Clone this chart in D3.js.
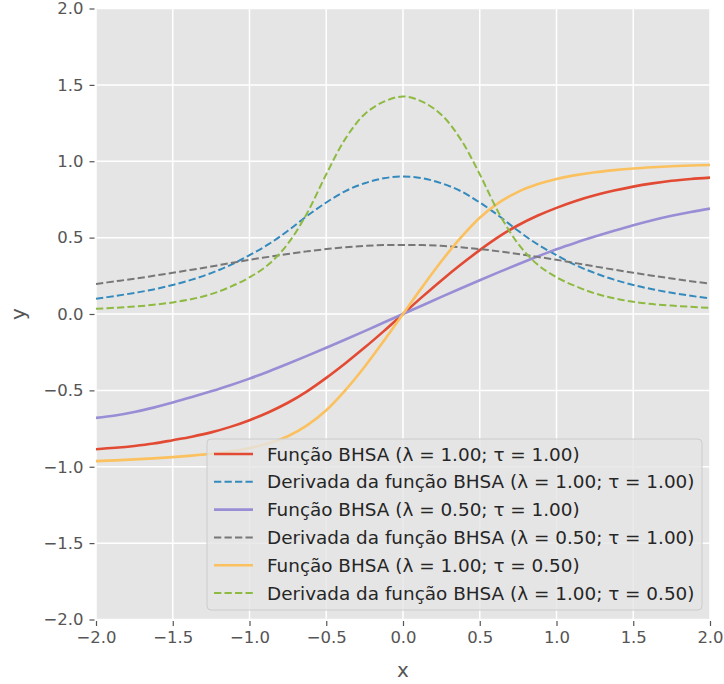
<!DOCTYPE html>
<html>
<head>
<meta charset="utf-8">
<script src="https://cdn.jsdelivr.net/npm/d3@7"></script>
<style>
  html, body { margin: 0; padding: 0; background: #ffffff; }
  svg { display: block; font-family: "DejaVu Sans", sans-serif; }
</style>
</head>
<body>
<svg id="chart" width="724" height="684"></svg>
<script>
// Sample abscissas shared by every curve
const xs = [-2, -1.875, -1.75, -1.625, -1.5, -1.375, -1.25, -1.125,
            -1, -0.875, -0.75, -0.625, -0.5, -0.375, -0.25, -0.125,
            0, 0.125, 0.25, 0.375, 0.5, 0.625, 0.75, 0.875,
            1, 1.125, 1.25, 1.375, 1.5, 1.625, 1.75, 1.875, 2];

// BHSA function and derivative values at each abscissa
const bhsa_l1_t1 = [-0.885, -0.876, -0.864, -0.848, -0.826, -0.803, -0.775, -0.739,
                    -0.695, -0.643, -0.581, -0.506, -0.418, -0.322, -0.22, -0.112,
                    0, 0.112, 0.22, 0.322, 0.418, 0.506, 0.581, 0.643,
                    0.695, 0.74, 0.777, 0.808, 0.834, 0.855, 0.872, 0.884, 0.893];
const dbhsa_l1_t1 = [0.1, 0.118, 0.138, 0.161, 0.19, 0.225, 0.268, 0.32,
                     0.385, 0.457, 0.545, 0.642, 0.73, 0.805, 0.856, 0.889,
                     0.9, 0.889, 0.856, 0.805, 0.73, 0.642, 0.545, 0.457,
                     0.385, 0.32, 0.268, 0.225, 0.19, 0.162, 0.139, 0.119, 0.102];
const bhsa_l05_t1 = [-0.68, -0.665, -0.642, -0.613, -0.58, -0.544, -0.506, -0.466,
                     -0.423, -0.376, -0.326, -0.274, -0.221, -0.167, -0.112, -0.056,
                     0, 0.056, 0.112, 0.167, 0.221, 0.274, 0.326, 0.376,
                     0.424, 0.467, 0.507, 0.545, 0.581, 0.614, 0.643, 0.668, 0.69];
const dbhsa_l05_t1 = [0.197, 0.214, 0.231, 0.25, 0.27, 0.29, 0.311, 0.333,
                      0.355, 0.374, 0.393, 0.41, 0.425, 0.437, 0.446, 0.451,
                      0.452, 0.451, 0.446, 0.437, 0.425, 0.41, 0.393, 0.374,
                      0.355, 0.333, 0.311, 0.29, 0.27, 0.251, 0.232, 0.215, 0.198];
const bhsa_l1_t05 = [-0.963, -0.958, -0.952, -0.945, -0.937, -0.927, -0.915, -0.90,
                     -0.878, -0.847, -0.80, -0.729, -0.63, -0.498, -0.345, -0.176,
                     0, 0.176, 0.345, 0.498, 0.63, 0.729, 0.80, 0.849,
                     0.884, 0.909, 0.928, 0.942, 0.953, 0.961, 0.967, 0.972, 0.975];
const dbhsa_l1_t05 = [0.034, 0.041, 0.049, 0.06, 0.076, 0.098, 0.13, 0.178,
                      0.24, 0.325, 0.46, 0.66, 0.915, 1.148, 1.308, 1.39,
                      1.424, 1.39, 1.305, 1.145, 0.915, 0.66, 0.46, 0.325,
                      0.24, 0.182, 0.135, 0.103, 0.08, 0.065, 0.055, 0.047, 0.04];

const seriesNames = [
  "Função BHSA (λ = 1.00; τ = 1.00)",
  "Derivada da função BHSA (λ = 1.00; τ = 1.00)",
  "Função BHSA (λ = 0.50; τ = 1.00)",
  "Derivada da função BHSA (λ = 0.50; τ = 1.00)",
  "Função BHSA (λ = 1.00; τ = 0.50)",
  "Derivada da função BHSA (λ = 1.00; τ = 0.50)"
];
const seriesValues = [bhsa_l1_t1, dbhsa_l1_t1, bhsa_l05_t1, dbhsa_l05_t1, bhsa_l1_t05, dbhsa_l1_t05];
const seriesDashed = [false, true, false, true, false, true];
const seriesColors = ["#E24A33", "#348ABD", "#988ED5", "#777777", "#FBC15E", "#8EBA42"];

const xTicks = [-2.0, -1.5, -1.0, -0.5, 0.0, 0.5, 1.0, 1.5, 2.0];
const yTicks = [-2.0, -1.5, -1.0, -0.5, 0.0, 0.5, 1.0, 1.5, 2.0];

const svg = d3.select("#chart");
const W = 724, H = 684;
const margin = { left: 96, right: 14, top: 8.5, bottom: 64.5 };
const iw = W - margin.left - margin.right;
const ih = H - margin.top - margin.bottom;

const x = d3.scaleLinear().domain([-2, 2]).range([0, iw]);
const y = d3.scaleLinear().domain([-2, 2]).range([ih, 0]);

const fmt = v => d3.format(".1f")(v).replace("-", "\u2212");

const g = svg.append("g").attr("transform", `translate(${margin.left},${margin.top})`);

// panel background
g.append("rect").attr("width", iw).attr("height", ih).attr("fill", "#E5E5E5");

svg.append("defs").append("clipPath").attr("id", "plotclip")
  .append("rect").attr("width", iw).attr("height", ih);

// white grid
const grid = g.append("g").attr("stroke", "#FFFFFF").attr("stroke-width", 1.5);
grid.selectAll("line.v").data(xTicks).join("line").attr("class", "v")
  .attr("x1", d => x(d)).attr("x2", d => x(d)).attr("y1", 0).attr("y2", ih);
grid.selectAll("line.h").data(yTicks).join("line").attr("class", "h")
  .attr("y1", d => y(d)).attr("y2", d => y(d)).attr("x1", 0).attr("x2", iw);

// axes
const xAxis = d3.axisBottom(x).tickValues(xTicks).tickFormat(fmt).tickSize(5).tickPadding(5);
const yAxis = d3.axisLeft(y).tickValues(yTicks).tickFormat(fmt).tickSize(5).tickPadding(6);

const gx = g.append("g").attr("transform", `translate(0,${ih + 1.5})`).call(xAxis);
const gy = g.append("g").attr("transform", `translate(-1.5,0)`).call(yAxis);
[gx, gy].forEach(a => {
  a.select(".domain").remove();
  a.selectAll(".tick line").attr("stroke", "#555555").attr("stroke-width", 1.2);
  a.selectAll(".tick text").attr("fill", "#555555").attr("font-size", "16.5px")
    .attr("font-family", "DejaVu Sans, sans-serif");
});

// curves
const line = d3.line().x(d => x(d[0])).y(d => y(d[1])).curve(d3.curveCatmullRom.alpha(0.5));
const curves = g.append("g").attr("clip-path", "url(#plotclip)");
seriesValues.forEach((vals, i) => {
  curves.append("path")
    .datum(xs.map((xv, k) => [xv, vals[k]]))
    .attr("fill", "none")
    .attr("stroke", seriesColors[i])
    .attr("stroke-width", seriesDashed[i] ? 2 : 2.6)
    .attr("stroke-dasharray", seriesDashed[i] ? "7.3,3.2" : null)
    .attr("d", line);
});

// axis labels
svg.append("text").attr("x", margin.left + iw / 2).attr("y", 677)
  .attr("text-anchor", "middle").attr("fill", "#555555").attr("font-size", "20px").text("x");
svg.append("text").attr("transform", `translate(25,${margin.top + ih / 2}) rotate(-90)`)
  .attr("text-anchor", "middle").attr("fill", "#555555").attr("font-size", "20px").text("y");

// legend
const lg = svg.append("g").attr("transform", "translate(207,439)");
lg.append("rect").attr("width", 495).attr("height", 171).attr("rx", 4)
  .attr("fill", "#E5E5E5").attr("fill-opacity", 0.8)
  .attr("stroke", "#CCCCCC").attr("stroke-width", 1);
seriesNames.forEach((name, i) => {
  const cy = 15 + i * 27.8;
  lg.append("line").attr("x1", 7).attr("x2", 46).attr("y1", cy).attr("y2", cy)
    .attr("stroke", seriesColors[i])
    .attr("stroke-width", seriesDashed[i] ? 2 : 2.6)
    .attr("stroke-dasharray", seriesDashed[i] ? "7.3,3.2" : null);
  lg.append("text").attr("x", 60).attr("y", cy).attr("dy", "0.36em")
    .attr("fill", "#262626").attr("font-size", "18.4px").text(name);
});
</script>
</body>
</html>
